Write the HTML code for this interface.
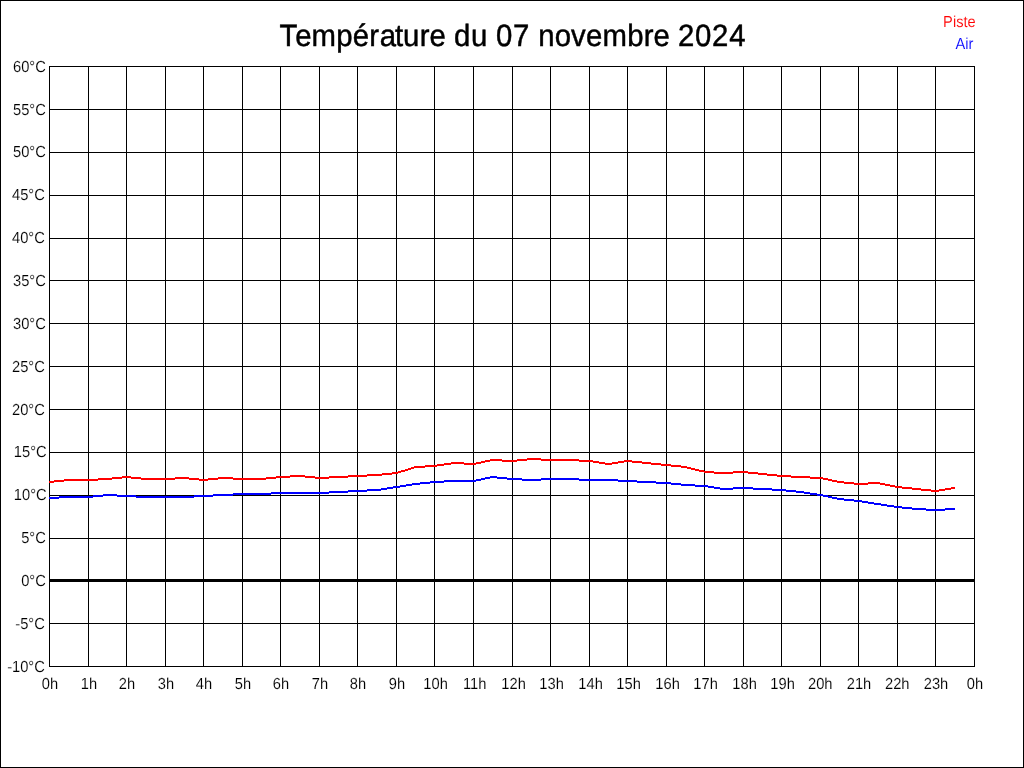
<!DOCTYPE html>
<html lang="fr">
<head>
<meta charset="utf-8">
<title>Température du 07 novembre 2024</title>
<style>
html,body{margin:0;padding:0;background:#fff;}
body{width:1024px;height:768px;overflow:hidden;font-family:"Liberation Sans",sans-serif;}
svg{display:block;}
text{font-family:"Liberation Sans",sans-serif;text-rendering:geometricPrecision;}
.lbl{font-size:14.67px;fill:#000;stroke:#fff;stroke-width:0.1px;}
.ttl{font-size:29.33px;fill:#000;stroke:#000;stroke-width:0.45px;}
</style>
</head>
<body>
<div id="chart" style="width:1024px;height:768px;will-change:transform;">
<svg width="1024" height="768" viewBox="0 0 1024 768">
<rect x="0" y="0" width="1024" height="768" fill="#fff"/>
<g fill="#000" shape-rendering="crispEdges">
<rect x="0" y="0" width="1024" height="1"/><rect x="0" y="767" width="1024" height="1"/><rect x="0" y="0" width="1" height="768"/><rect x="1023" y="0" width="1" height="768"/>
<rect x="49" y="66" width="1" height="601"/><rect x="88" y="66" width="1" height="601"/><rect x="126" y="66" width="1" height="601"/><rect x="165" y="66" width="1" height="601"/><rect x="203" y="66" width="1" height="601"/><rect x="242" y="66" width="1" height="601"/><rect x="280" y="66" width="1" height="601"/><rect x="319" y="66" width="1" height="601"/><rect x="357" y="66" width="1" height="601"/><rect x="396" y="66" width="1" height="601"/><rect x="434" y="66" width="1" height="601"/><rect x="473" y="66" width="1" height="601"/><rect x="512" y="66" width="1" height="601"/><rect x="550" y="66" width="1" height="601"/><rect x="589" y="66" width="1" height="601"/><rect x="627" y="66" width="1" height="601"/><rect x="666" y="66" width="1" height="601"/><rect x="704" y="66" width="1" height="601"/><rect x="743" y="66" width="1" height="601"/><rect x="781" y="66" width="1" height="601"/><rect x="820" y="66" width="1" height="601"/><rect x="858" y="66" width="1" height="601"/><rect x="897" y="66" width="1" height="601"/><rect x="935" y="66" width="1" height="601"/><rect x="974" y="66" width="1" height="601"/>
<rect x="49" y="66" width="926" height="1"/><rect x="49" y="109" width="926" height="1"/><rect x="49" y="152" width="926" height="1"/><rect x="49" y="195" width="926" height="1"/><rect x="49" y="238" width="926" height="1"/><rect x="49" y="280" width="926" height="1"/><rect x="49" y="323" width="926" height="1"/><rect x="49" y="366" width="926" height="1"/><rect x="49" y="409" width="926" height="1"/><rect x="49" y="452" width="926" height="1"/><rect x="49" y="495" width="926" height="1"/><rect x="49" y="538" width="926" height="1"/><rect x="49" y="579" width="926" height="3"/><rect x="49" y="623" width="926" height="1"/><rect x="49" y="666" width="926" height="1"/>
</g>
<path shape-rendering="crispEdges" fill="#ff0000" d="M49 481h5v2h-5zM54 480h10v2h-10zM64 479h34v2h-34zM98 478h14v2h-14zM112 477h10v2h-10zM122 476h9v2h-9zM131 477h10v2h-10zM141 478h34v2h-34zM175 477h14v2h-14zM189 478h10v2h-10zM199 479h9v2h-9zM208 478h10v2h-10zM218 477h15v2h-15zM233 478h33v2h-33zM266 477h10v2h-10zM276 476h14v2h-14zM290 475h15v2h-15zM305 476h10v2h-10zM315 477h14v2h-14zM329 476h19v2h-19zM348 475h19v2h-19zM367 474h15v2h-15zM382 473h10v2h-10zM392 472h6v2h-6zM398 471h3v2h-3zM401 470h4v2h-4zM405 469h3v2h-3zM408 468h3v2h-3zM411 467h3v2h-3zM414 466h11v2h-11zM425 465h12v2h-12zM437 464h7v2h-7zM444 463h7v2h-7zM451 462h13v2h-13zM464 463h12v2h-12zM476 462h5v2h-5zM481 461h4v2h-4zM485 460h5v2h-5zM490 459h12v2h-12zM502 460h15v2h-15zM517 459h10v2h-10zM527 458h14v2h-14zM541 459h38v2h-38zM579 460h14v2h-14zM593 461h6v2h-6zM599 462h6v2h-6zM605 463h7v2h-7zM612 462h6v2h-6zM618 461h6v2h-6zM624 460h8v2h-8zM632 461h10v2h-10zM642 462h9v2h-9zM651 463h10v2h-10zM661 464h10v2h-10zM671 465h10v2h-10zM681 466h6v2h-6zM687 467h4v2h-4zM691 468h4v2h-4zM695 469h4v2h-4zM699 470h5v2h-5zM704 471h10v2h-10zM714 472h19v2h-19zM733 471h15v2h-15zM748 472h10v2h-10zM758 473h9v2h-9zM767 474h10v2h-10zM777 475h14v2h-14zM791 476h19v2h-19zM810 477h13v2h-13zM823 478h5v2h-5zM828 479h4v2h-4zM832 480h5v2h-5zM837 481h7v2h-7zM844 482h10v2h-10zM854 483h14v2h-14zM868 482h12v2h-12zM880 483h5v2h-5zM885 484h5v2h-5zM890 485h5v2h-5zM895 486h7v2h-7zM902 487h10v2h-10zM912 488h9v2h-9zM921 489h10v2h-10zM931 490h8v2h-8zM939 489h6v2h-6zM945 488h6v2h-6zM951 487h4v2h-4z"/>
<path shape-rendering="crispEdges" fill="#0000ff" d="M49 497h10v2h-10zM59 496h34v2h-34zM93 495h10v2h-10zM103 494h14v2h-14zM117 495h19v2h-19zM136 496h58v2h-58zM194 495h19v2h-19zM213 494h20v2h-20zM233 493h38v2h-38zM271 492h58v2h-58zM329 491h19v2h-19zM348 490h19v2h-19zM367 489h14v2h-14zM381 488h6v2h-6zM387 487h6v2h-6zM393 486h7v2h-7zM400 485h6v2h-6zM406 484h6v2h-6zM412 483h8v2h-8zM420 482h10v2h-10zM430 481h14v2h-14zM444 480h32v2h-32zM476 479h5v2h-5zM481 478h4v2h-4zM485 477h5v2h-5zM490 476h7v2h-7zM497 477h10v2h-10zM507 478h15v2h-15zM522 479h19v2h-19zM541 478h38v2h-38zM579 479h39v2h-39zM618 480h19v2h-19zM637 481h19v2h-19zM656 482h15v2h-15zM671 483h10v2h-10zM681 484h14v2h-14zM695 485h13v2h-13zM708 486h6v2h-6zM714 487h6v2h-6zM720 488h13v2h-13zM733 487h20v2h-20zM753 488h19v2h-19zM772 489h14v2h-14zM786 490h10v2h-10zM796 491h8v2h-8zM804 492h6v2h-6zM810 493h7v2h-7zM817 494h6v2h-6zM823 495h5v2h-5zM828 496h4v2h-4zM832 497h5v2h-5zM837 498h7v2h-7zM844 499h10v2h-10zM854 500h8v2h-8zM862 501h6v2h-6zM868 502h6v2h-6zM874 503h7v2h-7zM881 504h6v2h-6zM887 505h7v2h-7zM894 506h8v2h-8zM902 507h10v2h-10zM912 508h14v2h-14zM926 509h19v2h-19zM945 508h10v2h-10z"/>
<text class="ttl" transform="translate(0 46) scale(1 1.05)" x="279.50 295.16 311.47 336.19 352.80 369.37 379.68 394.99 402.95 419.76 429.43 445.74 453.93 471.09 487.61 495.95 512.96 529.67 538.33 554.84 570.94 585.91 602.52 627.34 643.86 653.62 669.83 677.89 694.90 712.00 729.26" y="0">Température du 07 novembre 2024</text>
<text class="lbl" transform="translate(975.7 27) scale(1 1.09)" text-anchor="end" style="fill:#ff0000">Piste</text>
<text class="lbl" transform="translate(973.5 49) scale(1 1.09)" text-anchor="end" style="fill:#0000ff">Air</text>
<text class="lbl" transform="translate(45.8 72) scale(1 1.09)" text-anchor="end">60°C</text><text class="lbl" transform="translate(45.8 115) scale(1 1.09)" text-anchor="end">55°C</text><text class="lbl" transform="translate(45.8 157) scale(1 1.09)" text-anchor="end">50°C</text><text class="lbl" transform="translate(44.8 200) scale(1 1.09)" text-anchor="end">45°C</text><text class="lbl" transform="translate(44.8 243) scale(1 1.09)" text-anchor="end">40°C</text><text class="lbl" transform="translate(45.8 286) scale(1 1.09)" text-anchor="end">35°C</text><text class="lbl" transform="translate(45.8 329) scale(1 1.09)" text-anchor="end">30°C</text><text class="lbl" transform="translate(44.8 372) scale(1 1.09)" text-anchor="end">25°C</text><text class="lbl" transform="translate(44.8 415) scale(1 1.09)" text-anchor="end">20°C</text><text class="lbl" transform="translate(46.599999999999994 457) scale(1 1.09)" text-anchor="end">15°C</text><text class="lbl" transform="translate(46.599999999999994 500) scale(1 1.09)" text-anchor="end">10°C</text><text class="lbl" transform="translate(45.8 543) scale(1 1.09)" text-anchor="end">5°C</text><text class="lbl" transform="translate(45.8 586) scale(1 1.09)" text-anchor="end">0°C</text><text class="lbl" transform="translate(44.8 629) scale(1 1.09)" text-anchor="end">-5°C</text><text class="lbl" transform="translate(44.8 672) scale(1 1.09)" text-anchor="end">-10°C</text>
<text class="lbl" transform="translate(50 689) scale(1 1.09)" text-anchor="middle">0h</text><text class="lbl" transform="translate(89 689) scale(1 1.09)" text-anchor="middle">1h</text><text class="lbl" transform="translate(127 689) scale(1 1.09)" text-anchor="middle">2h</text><text class="lbl" transform="translate(166 689) scale(1 1.09)" text-anchor="middle">3h</text><text class="lbl" transform="translate(204 689) scale(1 1.09)" text-anchor="middle">4h</text><text class="lbl" transform="translate(243 689) scale(1 1.09)" text-anchor="middle">5h</text><text class="lbl" transform="translate(281 689) scale(1 1.09)" text-anchor="middle">6h</text><text class="lbl" transform="translate(320 689) scale(1 1.09)" text-anchor="middle">7h</text><text class="lbl" transform="translate(358 689) scale(1 1.09)" text-anchor="middle">8h</text><text class="lbl" transform="translate(397 689) scale(1 1.09)" text-anchor="middle">9h</text><text class="lbl" transform="translate(435.6 689) scale(1 1.09)" text-anchor="middle">10h</text><text class="lbl" transform="translate(474.6 689) scale(1 1.09)" text-anchor="middle">11h</text><text class="lbl" transform="translate(513.6 689) scale(1 1.09)" text-anchor="middle">12h</text><text class="lbl" transform="translate(551.6 689) scale(1 1.09)" text-anchor="middle">13h</text><text class="lbl" transform="translate(590.6 689) scale(1 1.09)" text-anchor="middle">14h</text><text class="lbl" transform="translate(628.6 689) scale(1 1.09)" text-anchor="middle">15h</text><text class="lbl" transform="translate(667.6 689) scale(1 1.09)" text-anchor="middle">16h</text><text class="lbl" transform="translate(705.6 689) scale(1 1.09)" text-anchor="middle">17h</text><text class="lbl" transform="translate(744.6 689) scale(1 1.09)" text-anchor="middle">18h</text><text class="lbl" transform="translate(782.6 689) scale(1 1.09)" text-anchor="middle">19h</text><text class="lbl" transform="translate(820.3 689) scale(1 1.09)" text-anchor="middle">20h</text><text class="lbl" transform="translate(859 689) scale(1 1.09)" text-anchor="middle">21h</text><text class="lbl" transform="translate(897.3 689) scale(1 1.09)" text-anchor="middle">22h</text><text class="lbl" transform="translate(936 689) scale(1 1.09)" text-anchor="middle">23h</text><text class="lbl" transform="translate(975 689) scale(1 1.09)" text-anchor="middle">0h</text>
</svg>
</div>
</body>
</html>
